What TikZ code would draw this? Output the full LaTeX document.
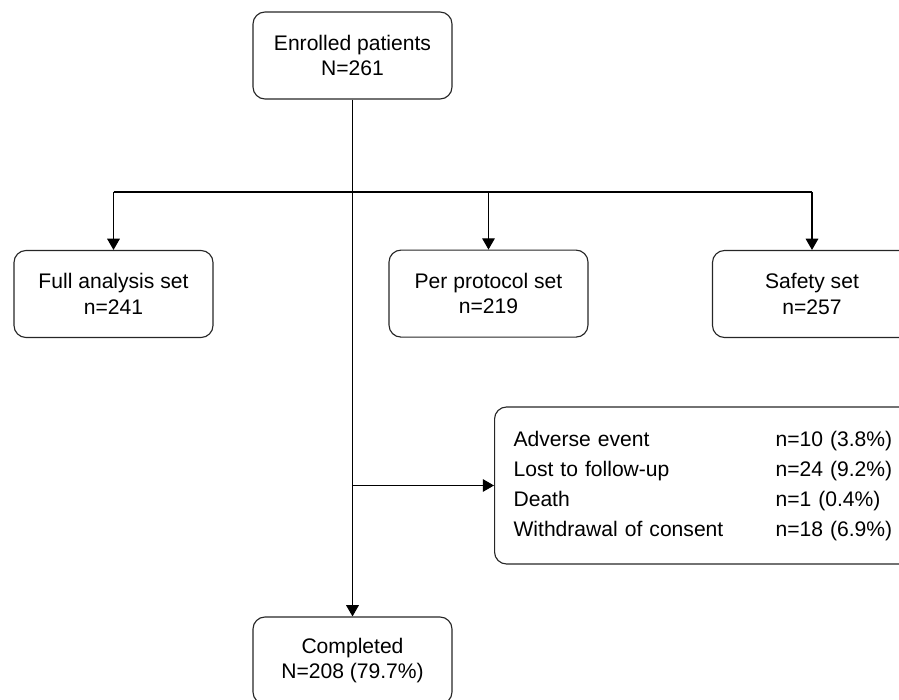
\documentclass[tikz,border=0pt]{standalone}
\usepackage{fontspec}
\setmainfont{Liberation Sans}
\usepackage{tikz}
\usetikzlibrary{arrows.meta,positioning,calc}
\tikzset{every picture/.style={line width=0.8pt}}
\tikzset{font=\fontsize{15}{18}\selectfont}
\tikzstyle{stage}=[draw=black!85,rounded corners=0.3cm,align=center,minimum width=4.975cm,minimum height=2.175cm,inner sep=0pt]
\tikzstyle{reasons}=[draw=black!85,rounded corners=0.3cm,align=left,anchor=west,text width=9.55cm,minimum height=3.925cm,inner xsep=0.475cm,inner ysep=0pt]

\begin{document}
\begin{tikzpicture}[>={Triangle[length=8pt,width=9pt]}]
\useasboundingbox (0,0) rectangle (22.475,-17.5);
\node[stage] (enr) at (8.8125,-1.3875) {Enrolled patients\\N=261};
\node[stage] (fas) at (2.8375,-7.35) {Full analysis set\\n=241};
\node[stage] (pp) at (12.2125,-7.34) {Per protocol set\\n=219};
\node[stage] (saf) at (20.3,-7.35) {Safety set\\n=257};
\node[reasons] (excl) at (12.35,-12.1375) {%
\fontsize{15}{21.3}\selectfont
\begin{tabular}{@{}p{6.55cm}@{}l@{}}
Adverse event & n=10 (3.8\%)\\
Lost to follow-up & n=24 (9.2\%)\\
Death & n=1 (0.4\%)\\
Withdrawal of consent & n=18 (6.9\%)
\end{tabular}};
\node[stage] (comp) at (8.8125,-16.5125) {Completed\\N=208 (79.7\%)};
\coordinate (split) at (8.8125,-4.8);
% main line down to completed
\draw[->] (enr) -- (comp);
% analysis sets
\draw (fas |- split) -- (saf |- split);
\path[->]
(fas |- split) edge (fas)
(pp |- split) edge (pp)
(saf |- split) edge (saf);
% discontinued
\draw[->] (enr |- excl.west) -- (excl.west);
\end{tikzpicture}
\end{document}
